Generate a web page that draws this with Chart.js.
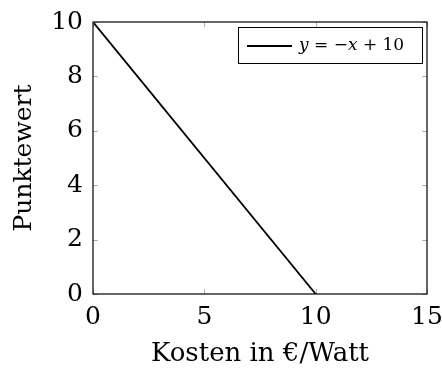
<!DOCTYPE html>
<html>
<head>
<meta charset="utf-8">
<script src="https://cdn.jsdelivr.net/npm/chart.js@4/dist/chart.umd.min.js"></script>
<style>
  html, body { margin: 0; padding: 0; background: #fff; }
  #wrap { width: 442px; height: 370px; }
</style>
</head>
<body>
<div id="wrap"><canvas id="line-chart"></canvas></div>
<script>
// data
var costValues = [0, 10];
var scoreValues = [10, 0];
var xTickValues = [0, 5, 10, 15];
var yTickValues = [0, 2, 4, 6, 8, 10];
var seriesLabel = "y = \u2212x + 10";

var serif = "'DejaVu Serif', 'Liberation Serif', serif";

// inward tick marks on all four sides, plus the plot frame
var innerTicks = {
    id: 'innerTicks',
    afterDatasetsDraw: function (chart) {
        var ctx = chart.ctx, a = chart.chartArea;
        var xs = chart.scales.x, ys = chart.scales.y;
        ctx.save();
        ctx.strokeStyle = '#b0b0b0';
        ctx.lineWidth = 1;
        ctx.beginPath();
        xTickValues.forEach(function (v) {
            var px = Math.round(xs.getPixelForValue(v)) + 0.5;
            ctx.moveTo(px, a.bottom); ctx.lineTo(px, a.bottom - 5);
            ctx.moveTo(px, a.top); ctx.lineTo(px, a.top + 5);
        });
        yTickValues.forEach(function (v) {
            var py = Math.round(ys.getPixelForValue(v)) + 0.5;
            ctx.moveTo(a.left, py); ctx.lineTo(a.left + 5, py);
            ctx.moveTo(a.right, py); ctx.lineTo(a.right - 5, py);
        });
        ctx.stroke();
        ctx.strokeStyle = '#000';
        ctx.lineWidth = 1.2;
        ctx.strokeRect(a.left, a.top, a.right - a.left, a.bottom - a.top);
        ctx.restore();
    }
};

// legend box in the upper right corner of the plot, letters in italic like TeX math
var cornerLegend = {
    id: 'cornerLegend',
    afterDraw: function (chart) {
        var ctx = chart.ctx, a = chart.chartArea;
        var ds = chart.data.datasets[0];
        var w = 184, h = 36;
        var x0 = a.right - 5 - w, y0 = a.top + 5;
        ctx.save();
        ctx.fillStyle = '#fff';
        ctx.fillRect(x0, y0, w, h);
        ctx.strokeStyle = '#000';
        ctx.lineWidth = 1;
        ctx.strokeRect(x0 + 0.5, y0 + 0.5, w, h);
        ctx.strokeStyle = ds.borderColor;
        ctx.lineWidth = 1.8;
        ctx.beginPath();
        ctx.moveTo(x0 + 9, y0 + h / 2 + 1);
        ctx.lineTo(x0 + 54, y0 + h / 2 + 1);
        ctx.stroke();
        ctx.fillStyle = '#000';
        ctx.textBaseline = 'middle';
        var tx = x0 + 61;
        ds.label.split('').forEach(function (c) {
            ctx.font = (/[a-z]/i.test(c) ? 'italic ' : '') + '17px ' + serif;
            ctx.fillText(c, tx, y0 + h / 2 + 1);
            tx += ctx.measureText(c).width;
        });
        ctx.restore();
    }
};

new Chart(document.getElementById("line-chart"), {
    type: 'line',
    data: {
        datasets: [{
            label: seriesLabel,
            data: costValues.map(function (x, i) { return {x: x, y: scoreValues[i]}; }),
            borderColor: '#000',
            borderWidth: 1.8,
            pointRadius: 0,
            fill: false,
            tension: 0
        }]
    },
    options: {
        maintainAspectRatio: false,
        responsive: true,
        animation: false,
        layout: {padding: {left: 0, right: 15, top: 22, bottom: 0}},
        plugins: {legend: {display: false}, tooltip: {enabled: false}},
        scales: {
            x: {
                type: 'linear', min: 0, max: 15,
                afterFit: function (s) { s.height = 76; s.paddingLeft = 0; s.paddingRight = 0; },
                afterBuildTicks: function (s) { s.ticks = xTickValues.map(function (v) { return {value: v}; }); },
                grid: {display: false},
                border: {display: false},
                ticks: {color: '#000', padding: 0, maxRotation: 0, font: {family: serif, size: 25}},
                title: {display: true, text: 'Kosten in \u20ac/Watt', color: '#000',
                        padding: {top: 4, bottom: 0}, font: {family: serif, size: 26}}
            },
            y: {
                type: 'linear', min: 0, max: 10,
                afterFit: function (s) { s.width = 93; s.paddingTop = 0; s.paddingBottom = 0; },
                afterBuildTicks: function (s) { s.ticks = yTickValues.map(function (v) { return {value: v}; }); },
                grid: {display: false},
                border: {display: false},
                ticks: {color: '#000', padding: 2, font: {family: serif, size: 25}},
                title: {display: true, text: 'Punktewert', color: '#000',
                        padding: {top: 9, bottom: 0}, font: {family: serif, size: 25}}
            }
        }
    },
    plugins: [innerTicks, cornerLegend]
});
</script>
</body>
</html>
